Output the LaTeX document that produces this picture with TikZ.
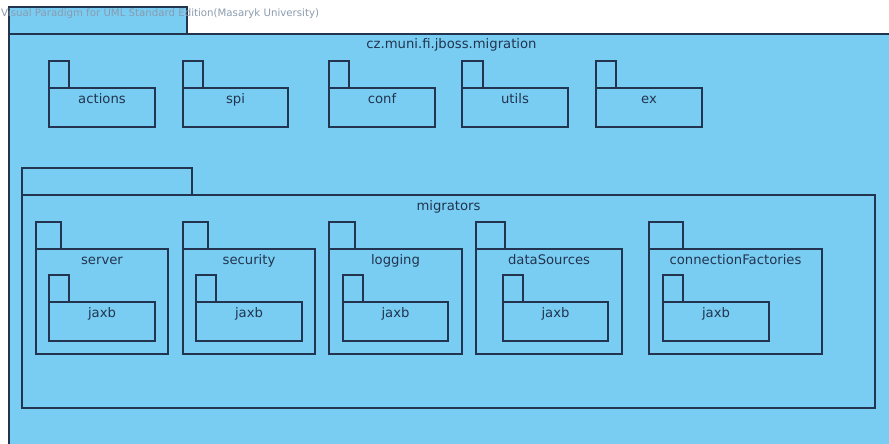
\documentclass[tikz,border=0pt]{standalone}
\usepackage{fontspec}
\setmainfont{DejaVu Sans}
\usepackage{tikz}
\usetikzlibrary{positioning}
\definecolor{pkgfill}{HTML}{79CDF2}
\definecolor{pkgline}{HTML}{22344F}
\definecolor{vpgray}{HTML}{8A9BAE}
\tikzset{
pkgbody/.style={draw=pkgline, fill=pkgfill, line width=1.1pt, anchor=north west, inner sep=0pt, outer sep=0pt},
pkgtab/.style={pkgbody, anchor=south west, minimum height=27pt},
pkglabel/.style={text=pkgline, font=\fontsize{13.2}{15}\selectfont, inner sep=0pt, anchor=base}
}
% name, x, top of body, tab width, body width, body height, text
\newcommand{\umlpkg}[7]{%
\node[pkgbody, minimum width=#5pt, minimum height=#6pt] (#1) at (#2,#3) {};
\node[pkgtab, minimum width=#4pt] (#1-tab) at (#1.north west) {};
\node[pkglabel] (#1-name) at ([yshift=-15pt]#1.north) {#7};
}

\begin{document}
\begin{tikzpicture}[x=1pt,y=-1pt]
\clip (0,0) rectangle (889,444);
\fill[white] (0,0) rectangle (889,444);

\umlpkg{migration}{9}{34}{178}{885}{420}{cz.muni.fi.jboss.migration}

\umlpkg{actions}{49}{88}{20}{106}{39}{actions}
\umlpkg{spi}{183}{88}{20}{105}{39}{spi}
\umlpkg{conf}{329}{88}{20}{106}{39}{conf}
\umlpkg{utils}{462}{88}{21}{106}{39}{utils}
\umlpkg{ex}{596}{88}{20}{106}{39}{ex}

\umlpkg{migrators}{22}{195}{170}{853}{213}{migrators}

\umlpkg{server}{36}{249}{25}{132}{105}{server}
\umlpkg{serverjaxb}{49}{302}{20}{106}{39}{jaxb}
\umlpkg{security}{183}{249}{25}{132}{105}{security}
\umlpkg{securityjaxb}{196}{302}{20}{106}{39}{jaxb}
\umlpkg{logging}{329}{249}{26}{133}{105}{logging}
\umlpkg{loggingjaxb}{343}{302}{20}{105}{39}{jaxb}
\umlpkg{dataSources}{476}{249}{29}{146}{105}{dataSources}
\umlpkg{dataSourcesjaxb}{503}{302}{20}{105}{39}{jaxb}
\umlpkg{connectionFactories}{649}{249}{34}{173}{105}{connectionFactories}
\umlpkg{connectionFactoriesjaxb}{663}{302}{20}{106}{39}{jaxb}

\node[anchor=west, inner sep=0pt, text=vpgray, font=\fontsize{10.2}{12}\selectfont] (vp) at (1,14) {Visual Paradigm for UML Standard Edition(Masaryk University)};
\end{tikzpicture}
\end{document}
